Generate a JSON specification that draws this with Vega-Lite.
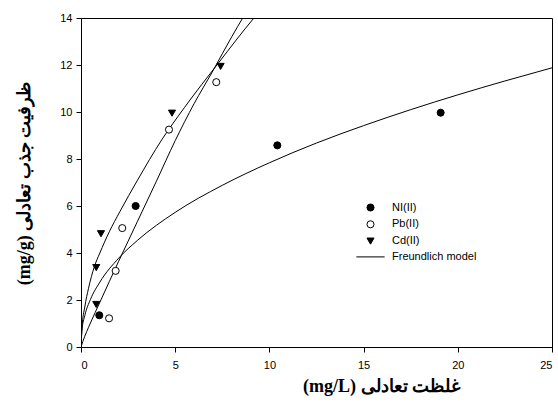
{
  "$schema": "https://vega.github.io/schema/vega-lite/v6.json",
  "width": 471,
  "height": 329,
  "autosize": {"type": "none"},
  "padding": {"left": 81, "top": 18, "right": 6, "bottom": 56},
  "background": "white",
  "config": {
    "view": {"stroke": "black", "strokeWidth": 1},
    "axis": {
      "grid": false,
      "domainColor": "black",
      "tickColor": "black",
      "tickSize": 5,
      "labelFont": "Liberation Sans",
      "labelFontSize": 11,
      "labelColor": "black",
      "titleFont": "Liberation Serif",
      "titleFontSize": 18,
      "titleFontWeight": "bold",
      "titleColor": "black"
    },
    "legend": {
      "orient": "none",
      "legendX": 284,
      "legendY": 184,
      "padding": 0,
      "labelFont": "Liberation Sans",
      "labelFontSize": 11,
      "labelColor": "black",
      "symbolStrokeColor": "black",
      "symbolStrokeWidth": 1,
      "symbolOpacity": 1,
      "labelOffset": 16,
      "rowPadding": 3.8
    }
  },
  "datasets": {
    "points": [
      {"C": 0.97, "q": 1.35, "series": "NI(II)"},
      {"C": 2.9, "q": 6.0, "series": "NI(II)"},
      {"C": 10.42, "q": 8.58, "series": "NI(II)"},
      {"C": 19.09, "q": 9.97, "series": "NI(II)"},
      {"C": 1.49, "q": 1.22, "series": "Pb(II)"},
      {"C": 1.84, "q": 3.24, "series": "Pb(II)"},
      {"C": 2.19, "q": 5.06, "series": "Pb(II)"},
      {"C": 4.67, "q": 9.25, "series": "Pb(II)"},
      {"C": 7.18, "q": 11.27, "series": "Pb(II)"},
      {"C": 0.81, "q": 1.81, "series": "Cd(II)"},
      {"C": 0.81, "q": 3.38, "series": "Cd(II)"},
      {"C": 1.06, "q": 4.82, "series": "Cd(II)"},
      {"C": 4.83, "q": 9.95, "series": "Cd(II)"},
      {"C": 7.41, "q": 11.94, "series": "Cd(II)"}
    ],
    "curves": [
      {"C": 0, "q": 0, "curve": "Ni"},
      {"C": 0.05, "q": 0.71, "curve": "Ni"},
      {"C": 0.2, "q": 1.33, "curve": "Ni"},
      {"C": 0.5, "q": 2.02, "curve": "Ni"},
      {"C": 1, "q": 2.76, "curve": "Ni"},
      {"C": 2, "q": 3.78, "curve": "Ni"},
      {"C": 3, "q": 4.54, "curve": "Ni"},
      {"C": 5, "q": 5.73, "curve": "Ni"},
      {"C": 7.5, "q": 6.88, "curve": "Ni"},
      {"C": 10, "q": 7.84, "curve": "Ni"},
      {"C": 12.5, "q": 8.68, "curve": "Ni"},
      {"C": 15, "q": 9.42, "curve": "Ni"},
      {"C": 17.5, "q": 10.1, "curve": "Ni"},
      {"C": 20, "q": 10.73, "curve": "Ni"},
      {"C": 22.5, "q": 11.32, "curve": "Ni"},
      {"C": 25, "q": 11.88, "curve": "Ni"},
      {"C": 0, "q": 0, "curve": "Pb"},
      {"C": 0.1, "q": 0.24, "curve": "Pb"},
      {"C": 0.5, "q": 1.02, "curve": "Pb"},
      {"C": 1.0, "q": 1.9, "curve": "Pb"},
      {"C": 1.5, "q": 2.78, "curve": "Pb"},
      {"C": 2.0, "q": 3.65, "curve": "Pb"},
      {"C": 2.5, "q": 4.5, "curve": "Pb"},
      {"C": 3.0, "q": 5.35, "curve": "Pb"},
      {"C": 4.0, "q": 7.05, "curve": "Pb"},
      {"C": 5.0, "q": 8.78, "curve": "Pb"},
      {"C": 6.0, "q": 10.35, "curve": "Pb"},
      {"C": 7.0, "q": 11.75, "curve": "Pb"},
      {"C": 8.0, "q": 13.2, "curve": "Pb"},
      {"C": 8.62, "q": 14.05, "curve": "Pb"},
      {"C": 9.0, "q": 14.55, "curve": "Pb"},
      {"C": 0, "q": 0, "curve": "Cd"},
      {"C": 0.05, "q": 0.8, "curve": "Cd"},
      {"C": 0.2, "q": 1.7, "curve": "Cd"},
      {"C": 0.4, "q": 2.5, "curve": "Cd"},
      {"C": 0.7, "q": 3.4, "curve": "Cd"},
      {"C": 1.0, "q": 4.0, "curve": "Cd"},
      {"C": 1.5, "q": 4.9, "curve": "Cd"},
      {"C": 2.07, "q": 5.77, "curve": "Cd"},
      {"C": 3.0, "q": 7.1, "curve": "Cd"},
      {"C": 4.28, "q": 8.81, "curve": "Cd"},
      {"C": 5.5, "q": 10.2, "curve": "Cd"},
      {"C": 7.29, "q": 12.08, "curve": "Cd"},
      {"C": 9.18, "q": 14.0, "curve": "Cd"},
      {"C": 9.5, "q": 14.3, "curve": "Cd"}
    ]
  },
  "encoding": {
    "x": {
      "field": "C",
      "type": "quantitative",
      "scale": {"domain": [0, 25], "nice": false},
      "axis": {
        "values": [0, 5, 10, 15, 20, 25],
        "labelPadding": 7,
        "title": "(mg/L) غلظت تعادلی",
        "titleX": 300,
        "titleY": 39,
        "titleAlign": "center",
        "titleBaseline": "middle",
        "titleAnchor": null
      }
    },
    "y": {
      "field": "q",
      "type": "quantitative",
      "scale": {"domain": [0, 14], "nice": false},
      "axis": {
        "values": [0, 2, 4, 6, 8, 10, 12, 14],
        "labelPadding": 4,
        "title": "(mg/g) ظرفیت جذب تعادلی",
        "titleAngle": -90,
        "titleX": -57,
        "titleY": 165,
        "titleAlign": "center",
        "titleBaseline": "middle"
      }
    }
  },
  "layer": [
    {
      "data": {"name": "curves"},
      "mark": {"type": "line", "color": "black", "strokeWidth": 1, "interpolate": "monotone", "clip": true},
      "encoding": {
        "detail": {"field": "curve", "type": "nominal"}
      }
    },
    {
      "data": {"name": "points"},
      "mark": {"type": "point", "filled": true, "stroke": "black", "strokeWidth": 1, "opacity": 1},
      "encoding": {
        "shape": {
          "field": "series",
          "type": "nominal",
          "scale": {
            "domain": ["NI(II)", "Pb(II)", "Cd(II)", "Freundlich model"],
            "range": ["circle", "circle", "triangle-down", "M-4,0H4"]
          },
          "legend": {
            "title": null,
            "encode": {"symbols": {"enter": {"stroke": {"value": "black"}, "strokeWidth": {"value": 1}}, "update": {"stroke": {"value": "black"}, "strokeWidth": {"value": 1}, "opacity": {"value": 1}}}}
          }
        },
        "fill": {
          "field": "series",
          "type": "nominal",
          "scale": {
            "domain": ["NI(II)", "Pb(II)", "Cd(II)", "Freundlich model"],
            "range": ["black", "white", "black", "transparent"]
          },
          "legend": {
            "title": null,
            "encode": {"symbols": {"enter": {"stroke": {"value": "black"}, "strokeWidth": {"value": 1}}, "update": {"stroke": {"value": "black"}, "strokeWidth": {"value": 1}, "opacity": {"value": 1}}}}
          }
        },
        "size": {
          "field": "series",
          "type": "nominal",
          "scale": {
            "domain": ["NI(II)", "Pb(II)", "Cd(II)", "Freundlich model"],
            "range": [50, 50, 70, 55]
          },
          "legend": {
            "title": null,
            "encode": {"symbols": {"enter": {"stroke": {"value": "black"}, "strokeWidth": {"value": 1}}, "update": {"stroke": {"value": "black"}, "strokeWidth": {"value": 1}, "opacity": {"value": 1}}}}
          }
        }
      }
    }
  ]
}
